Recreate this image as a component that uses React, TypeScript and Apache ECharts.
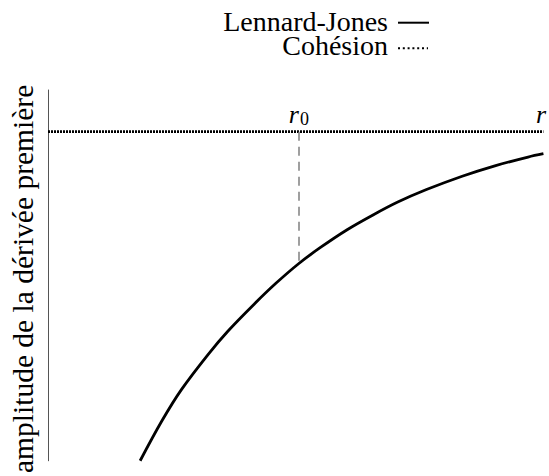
import React, { useEffect, useRef } from "react";
import * as echarts from "echarts";

// Lennard-Jones derivative amplitude curve (x in arbitrary distance units, y in arbitrary amplitude units)
const ljX = [18.6, 23, 27, 32.3, 36.3, 41.7, 46, 50.64, 55, 60.3, 65.6, 70.6, 76.4, 83.6, 90.2, 96.9, 100];
const ljY = [-79, -69.4, -61.8, -53.5, -47.9, -41.3, -36.4, -31.64, -27.8, -23.6, -20.0, -16.9, -13.9, -10.7, -8.2, -6.1, -5.3];
// Cohesion level (horizontal dotted line)
const cohX = [0, 100];
const cohY = [0, 0];
// Tick positions and labels
const r0Value = 50.64;
const r0CurveValue = -31.64;
const rValue = 99.5;
const tickValues = [r0Value, rValue];
const tickLabels = ["{i|r}{s|0}", "{i|r}"];
const seriesNames = ["Lennard-Jones", "Cohésion"];
const yAxisTitle = "amplitude de la dérivée première";

const SERIF = "Liberation Serif";

export default function App() {
  const ref = useRef<HTMLDivElement>(null);
  useEffect(() => {
    if (!ref.current) return;
    const chart = echarts.init(ref.current, null, { renderer: "svg" });
    const option: any = {
      animation: false,
      backgroundColor: "#ffffff",
      textStyle: { fontFamily: SERIF },
      grid: { left: 48, right: 0, top: 90, bottom: 6, containLabel: false },
      xAxis: {
        type: "value",
        min: 0,
        max: 100,
        position: "top",
        offset: -42.7,
        axisLine: { show: false, onZero: false },
        axisTick: { show: false },
        splitLine: { show: false },
        axisLabel: {
          show: true,
          customValues: tickValues,
          margin: 5,
          formatter: (v: number) => tickLabels[tickValues.indexOf(v)] ?? "",
          rich: {
            i: { fontFamily: SERIF, fontStyle: "italic", fontSize: 26, color: "#000" },
            s: { fontFamily: SERIF, fontSize: 18, color: "#000", padding: [9, 0, 0, 1] },
          },
        },
      },
      yAxis: {
        type: "value",
        min: -79,
        max: 10,
        axisLine: { show: true, onZero: false, lineStyle: { color: "#555", width: 1 } },
        axisTick: { show: false },
        axisLabel: { show: false },
        splitLine: { show: false },
        name: yAxisTitle,
        nameLocation: "middle",
        nameRotate: 90,
        nameGap: 10,
        nameTextStyle: { fontFamily: SERIF, fontSize: 29.5, color: "#000", padding: [0, 7, 0, 0] },
      },
      series: [
        {
          name: seriesNames[0],
          type: "line",
          smooth: 0.35,
          symbol: "none",
          data: ljX.map((x, i) => [x, ljY[i]]),
          lineStyle: { color: "#000", width: 2.8 },
          markLine: {
            silent: true,
            symbol: "none",
            label: { show: false },
            lineStyle: { color: "#808080", width: 1.5, type: [9, 6] },
            data: [[{ coord: [r0Value, 0] }, { coord: [r0Value, r0CurveValue] }]],
          },
          z: 3,
        },
        {
          name: seriesNames[1],
          type: "line",
          symbol: "none",
          data: cohX.map((x, i) => [x, cohY[i]]),
          lineStyle: { color: "#000", width: 2.7, type: [2, 1] },
          z: 2,
        },
      ],
      graphic: [
        {
          type: "text",
          x: 388,
          y: 33.5,
          style: {
            text: seriesNames.join("\n"),
            fontFamily: SERIF,
            fontSize: 28,
            lineHeight: 24,
            fill: "#000",
            align: "right",
            verticalAlign: "middle",
          },
        },
        {
          type: "line",
          shape: { x1: 398, y1: 22.7, x2: 429, y2: 22.7 },
          style: { stroke: "#000", lineWidth: 2 },
        },
        {
          type: "line",
          shape: { x1: 398, y1: 48.3, x2: 428, y2: 48.3 },
          style: { stroke: "#000", lineWidth: 2, lineDash: [2, 2.8] },
        },
      ],
    };
    chart.setOption(option);
    return () => chart.dispose();
  }, []);
  return (
    <div
      ref={ref}
      style={{ position: "absolute", left: 0, top: 0, width: 549, height: 476, background: "#fff" }}
    />
  );
}
